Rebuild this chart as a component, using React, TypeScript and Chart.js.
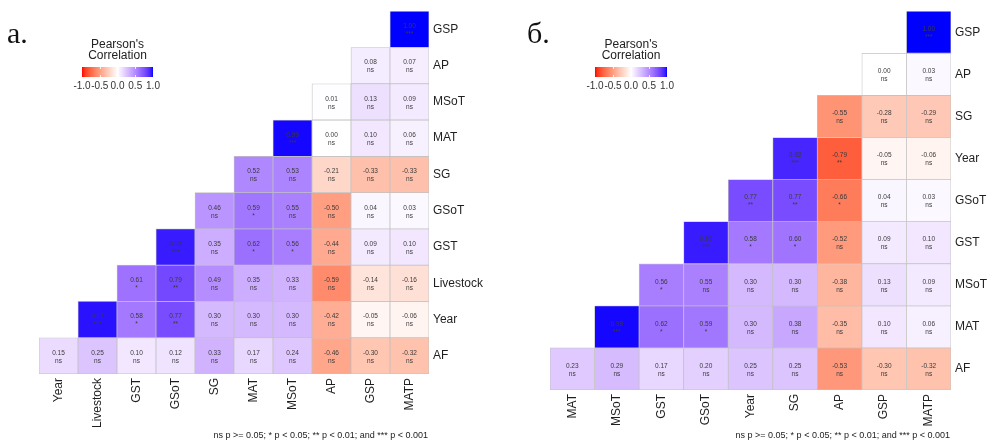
import React, { useEffect, useRef } from 'react';
import { Chart, registerables } from 'chart.js';

Chart.register(...registerables);

// ---------- Data ----------
const leftColumns = ['Year', 'Livestock', 'GST', 'GSoT', 'SG', 'MAT', 'MSoT', 'AP', 'GSP', 'MATP'];
const leftRows = ['GSP', 'AP', 'MSoT', 'MAT', 'SG', 'GSoT', 'GST', 'Livestock', 'Year', 'AF'];
const leftValues: (number | null)[][] = [
  [null, null, null, null, null, null, null, null, null, 1.0],
  [null, null, null, null, null, null, null, null, 0.08, 0.07],
  [null, null, null, null, null, null, null, 0.01, 0.13, 0.09],
  [null, null, null, null, null, null, 0.99, 0.0, 0.1, 0.06],
  [null, null, null, null, null, 0.52, 0.53, -0.21, -0.33, -0.33],
  [null, null, null, null, 0.46, 0.59, 0.55, -0.5, 0.04, 0.03],
  [null, null, null, 0.95, 0.35, 0.62, 0.56, -0.44, 0.09, 0.1],
  [null, null, 0.61, 0.79, 0.49, 0.35, 0.33, -0.59, -0.14, -0.16],
  [null, 0.97, 0.58, 0.77, 0.3, 0.3, 0.3, -0.42, -0.05, -0.06],
  [0.15, 0.25, 0.1, 0.12, 0.33, 0.17, 0.24, -0.46, -0.3, -0.32],
];
const leftSignif: (string | null)[][] = [
  [null, null, null, null, null, null, null, null, null, '***'],
  [null, null, null, null, null, null, null, null, 'ns', 'ns'],
  [null, null, null, null, null, null, null, 'ns', 'ns', 'ns'],
  [null, null, null, null, null, null, '***', 'ns', 'ns', 'ns'],
  [null, null, null, null, null, 'ns', 'ns', 'ns', 'ns', 'ns'],
  [null, null, null, null, 'ns', '*', 'ns', 'ns', 'ns', 'ns'],
  [null, null, null, '***', 'ns', '*', '*', 'ns', 'ns', 'ns'],
  [null, null, '*', '**', 'ns', 'ns', 'ns', 'ns', 'ns', 'ns'],
  [null, '***', '*', '**', 'ns', 'ns', 'ns', 'ns', 'ns', 'ns'],
  ['ns', 'ns', 'ns', 'ns', 'ns', 'ns', 'ns', 'ns', 'ns', 'ns'],
];

const rightColumns = ['MAT', 'MSoT', 'GST', 'GSoT', 'Year', 'SG', 'AP', 'GSP', 'MATP'];
const rightRows = ['GSP', 'AP', 'SG', 'Year', 'GSoT', 'GST', 'MSoT', 'MAT', 'AF'];
const rightValues: (number | null)[][] = [
  [null, null, null, null, null, null, null, null, 1.0],
  [null, null, null, null, null, null, null, 0.0, 0.03],
  [null, null, null, null, null, null, -0.55, -0.28, -0.29],
  [null, null, null, null, null, 0.92, -0.79, -0.05, -0.06],
  [null, null, null, null, 0.77, 0.77, -0.66, 0.04, 0.03],
  [null, null, null, 0.95, 0.58, 0.6, -0.52, 0.09, 0.1],
  [null, null, 0.56, 0.55, 0.3, 0.3, -0.38, 0.13, 0.09],
  [null, 0.99, 0.62, 0.59, 0.3, 0.38, -0.35, 0.1, 0.06],
  [0.23, 0.29, 0.17, 0.2, 0.25, 0.25, -0.53, -0.3, -0.32],
];
const rightSignif: (string | null)[][] = [
  [null, null, null, null, null, null, null, null, '***'],
  [null, null, null, null, null, null, null, 'ns', 'ns'],
  [null, null, null, null, null, null, 'ns', 'ns', 'ns'],
  [null, null, null, null, null, '***', '**', 'ns', 'ns'],
  [null, null, null, null, '**', '**', '*', 'ns', 'ns'],
  [null, null, null, '***', '*', '*', 'ns', 'ns', 'ns'],
  [null, null, '*', 'ns', 'ns', 'ns', 'ns', 'ns', 'ns'],
  [null, '***', '*', '*', 'ns', 'ns', 'ns', 'ns', 'ns'],
  ['ns', 'ns', 'ns', 'ns', 'ns', 'ns', 'ns', 'ns', 'ns'],
];

const legendTicks = [-1, -0.5, 0, 0.5, 1];
const legendTitle = ["Pearson's", 'Correlation'];
const footnote = 'ns p >= 0.05; * p < 0.05; ** p < 0.01; and *** p < 0.001';

// ---------- Colour (Lab interpolation like ggplot2 gradient2) ----------
type RGB = [number, number, number];
const toLin = (c: number) => {
  c /= 255;
  return c <= 0.04045 ? c / 12.92 : Math.pow((c + 0.055) / 1.055, 2.4);
};
const fromLin = (c: number) => {
  const v = c <= 0.0031308 ? 12.92 * c : 1.055 * Math.pow(c, 1 / 2.4) - 0.055;
  return Math.max(0, Math.min(255, Math.round(v * 255)));
};
const Wn = [0.95047, 1, 1.08883];
const fLab = (t: number) => (t > 0.008856 ? Math.cbrt(t) : 7.787 * t + 16 / 116);
const fInv = (t: number) => (t > 0.206893 ? t * t * t : (t - 16 / 116) / 7.787);
function rgb2lab([r, g, b]: RGB): RGB {
  const R = toLin(r), G = toLin(g), B = toLin(b);
  const X = (0.4124 * R + 0.3576 * G + 0.1805 * B) / Wn[0];
  const Y = (0.2126 * R + 0.7152 * G + 0.0722 * B) / Wn[1];
  const Z = (0.0193 * R + 0.1192 * G + 0.9505 * B) / Wn[2];
  const fx = fLab(X), fy = fLab(Y), fz = fLab(Z);
  return [116 * fy - 16, 500 * (fx - fy), 200 * (fy - fz)];
}
function lab2rgb([L, a, b]: RGB): RGB {
  const fy = (L + 16) / 116;
  const fx = fy + a / 500;
  const fz = fy - b / 200;
  const X = fInv(fx) * Wn[0], Y = fInv(fy) * Wn[1], Z = fInv(fz) * Wn[2];
  const R = 3.2406 * X - 1.5372 * Y - 0.4986 * Z;
  const G = -0.9689 * X + 1.8758 * Y + 0.0415 * Z;
  const B = 0.0557 * X - 0.204 * Y + 1.057 * Z;
  return [fromLin(R), fromLin(G), fromLin(B)];
}
const LAB_LOW = rgb2lab([255, 0, 0]);
const LAB_MID = rgb2lab([255, 255, 255]);
const LAB_HIGH = rgb2lab([0, 0, 255]);
function corrColor(v: number | null): string {
  if (v === null) return 'rgba(0,0,0,0)';
  const t = Math.max(-1, Math.min(1, v));
  const from = t < 0 ? LAB_MID : LAB_MID;
  const to = t < 0 ? LAB_LOW : LAB_HIGH;
  const k = Math.abs(t);
  const lab: RGB = [
    from[0] + (to[0] - from[0]) * k,
    from[1] + (to[1] - from[1]) * k,
    from[2] + (to[2] - from[2]) * k,
  ];
  const [r, g, b] = lab2rgb(lab);
  return `rgb(${r},${g},${b})`;
}

const FONT = '"Liberation Sans", Arial, Helvetica, sans-serif';

// ---------- Heatmap panel ----------
interface PanelProps {
  columns: string[];
  rows: string[];
  values: (number | null)[][];
  signif: (string | null)[][];
  left: number;
  width: number;
  padLeft: number;
  padTop: number;
  padBottom: number;
  yAxisWidth: number;
  xAxisHeight: number;
}

function Heatmap(p: PanelProps) {
  const ref = useRef<HTMLCanvasElement | null>(null);
  useEffect(() => {
    if (!ref.current) return;
    const n = p.rows.length;
    const yOf = (i: number) => n - 1 - i;
    const textPlugin = {
      id: 'cellText',
      afterDatasetsDraw(chart: any) {
        const ctx = chart.ctx;
        chart.data.datasets.forEach((_: any, di: number) => {
          const meta = chart.getDatasetMeta(di);
          meta.data.forEach((el: any, ci: number) => {
            const v = p.values[di][ci];
            if (v === null) return;
            const cx = el.x;
            const cy = (el.y + el.base) / 2;
            ctx.save();
            ctx.fillStyle = '#3a3a3a';
            ctx.font = `6.5px ${FONT}`;
            ctx.textAlign = 'center';
            ctx.textBaseline = 'middle';
            ctx.fillText(v.toFixed(2), cx, cy - 3);
            ctx.fillText(p.signif[di][ci] || '', cx, cy + 5);
            ctx.restore();
          });
        });
      },
    };
    const chart = new Chart(ref.current, {
      type: 'bar',
      data: {
        labels: p.columns,
        datasets: p.rows.map((row, i) => ({
          label: row,
          data: p.values[i].map((v) => (v === null ? null : [yOf(i) - 0.5, yOf(i) + 0.5])) as any,
          backgroundColor: p.values[i].map(corrColor),
          borderColor: '#c2c2c2',
          borderWidth: 0.75,
          borderSkipped: false,
          grouped: false,
          barPercentage: 1,
          categoryPercentage: 1,
        })),
      },
      options: {
        responsive: false,
        animation: false,
        layout: { padding: { left: p.padLeft, top: p.padTop, right: 0, bottom: p.padBottom } },
        plugins: { legend: { display: false }, tooltip: { enabled: false } },
        scales: {
          x: {
            type: 'category',
            position: 'bottom',
            grid: { display: false, drawTicks: false },
            border: { display: false },
            ticks: {
              minRotation: 90,
              maxRotation: 90,
              autoSkip: false,
              padding: 4,
              color: '#1f1f1f',
              font: { family: FONT, size: 12 },
            },
            afterFit: (s: any) => {
              s.height = p.xAxisHeight;
            },
          },
          y: {
            type: 'linear',
            position: 'right',
            min: -0.5,
            max: n - 0.5,
            grid: { display: false, drawTicks: false },
            border: { display: false },
            afterBuildTicks: (s: any) => {
              s.ticks = p.rows.map((_, i) => ({ value: i }));
            },
            ticks: {
              autoSkip: false,
              padding: 4,
              color: '#1f1f1f',
              font: { family: FONT, size: 12 },
              callback: (value: any) => p.rows[n - 1 - Number(value)],
            },
            afterFit: (s: any) => {
              s.width = p.yAxisWidth;
            },
          },
        },
      } as any,
      plugins: [textPlugin],
    });
    return () => chart.destroy();
  }, []);
  return (
    <canvas
      ref={ref}
      width={p.width}
      height={442}
      style={{ position: 'absolute', left: p.left, top: 0, width: p.width, height: 442 }}
    />
  );
}

// ---------- Legend (colour bar) ----------
function ColorLegend({ barLeft, barWidth }: { barLeft: number; barWidth: number }) {
  const stops: string[] = [];
  for (let i = 0; i <= 40; i++) {
    const v = -1 + (2 * i) / 40;
    stops.push(`${corrColor(v)} ${(i / 40) * 100}%`);
  }
  const center = barLeft + barWidth / 2;
  return (
    <>
      <div
        style={{
          position: 'absolute',
          left: center - 60,
          width: 120,
          top: 39,
          textAlign: 'center',
          fontFamily: FONT,
          fontSize: 12,
          lineHeight: '11px',
          color: '#222',
        }}
      >
        {legendTitle.map((t) => (
          <div key={t}>{t}</div>
        ))}
      </div>
      <div
        style={{
          position: 'absolute',
          left: barLeft,
          top: 67,
          width: barWidth,
          height: 10,
          background: `linear-gradient(to right, ${stops.join(', ')})`,
        }}
      >
        {legendTicks.slice(1, -1).map((t) => (
          <React.Fragment key={t}>
            <div
              style={{
                position: 'absolute',
                left: ((t + 1) / 2) * barWidth,
                top: 0,
                width: 1,
                height: 2,
                background: 'rgba(255,255,255,0.8)',
              }}
            />
            <div
              style={{
                position: 'absolute',
                left: ((t + 1) / 2) * barWidth,
                bottom: 0,
                width: 1,
                height: 2,
                background: 'rgba(255,255,255,0.8)',
              }}
            />
          </React.Fragment>
        ))}
      </div>
      {legendTicks.map((t) => (
        <span
          key={t}
          style={{
            position: 'absolute',
            left: barLeft + ((t + 1) / 2) * barWidth,
            top: 80,
            transform: 'translateX(-50%)',
            fontFamily: FONT,
            fontSize: 10,
            lineHeight: '12px',
            color: '#333',
            whiteSpace: 'nowrap',
          }}
        >
          {t.toFixed(1)}
        </span>
      ))}
    </>
  );
}

const panelLabelStyle: React.CSSProperties = {
  position: 'absolute',
  top: 18,
  fontFamily: '"Liberation Serif", "Times New Roman", serif',
  fontSize: 30,
  lineHeight: '30px',
  color: '#111',
};

const footStyle: React.CSSProperties = {
  position: 'absolute',
  top: 430,
  fontFamily: FONT,
  fontSize: 9,
  lineHeight: '11px',
  color: '#222',
  whiteSpace: 'nowrap',
};

export default function App() {
  return (
    <div
      style={{
        position: 'fixed',
        left: 0,
        top: 0,
        width: 994,
        height: 442,
        background: '#fff',
        overflow: 'hidden',
      }}
    >
      <Heatmap
        columns={leftColumns}
        rows={leftRows}
        values={leftValues}
        signif={leftSignif}
        left={0}
        width={497}
        padLeft={39}
        padTop={9}
        padBottom={8}
        yAxisWidth={68}
        xAxisHeight={60}
      />
      <Heatmap
        columns={rightColumns}
        rows={rightRows}
        values={rightValues}
        signif={rightSignif}
        left={497}
        width={497}
        padLeft={53}
        padTop={8}
        padBottom={8}
        yAxisWidth={43}
        xAxisHeight={44}
      />
      <div style={{ ...panelLabelStyle, left: 7 }}>a.</div>
      <div style={{ ...panelLabelStyle, left: 527 }}>б.</div>
      <ColorLegend barLeft={82} barWidth={71} />
      <ColorLegend barLeft={595} barWidth={72} />
      <div style={{ ...footStyle, right: 994 - 428 }}>{footnote}</div>
      <div style={{ ...footStyle, right: 994 - 950 }}>{footnote}</div>
    </div>
  );
}
